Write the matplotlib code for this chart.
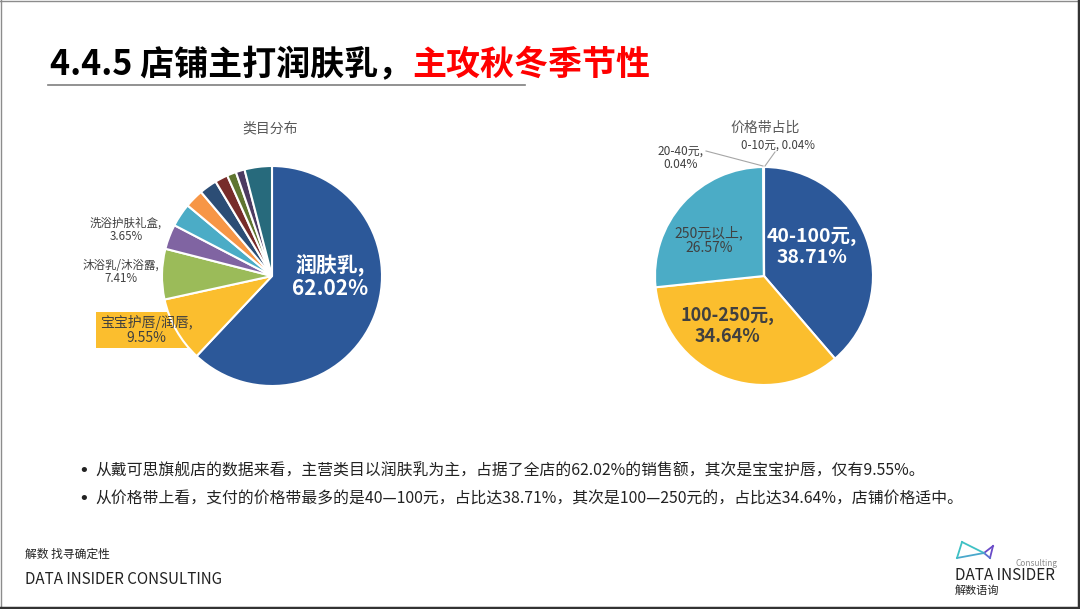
import matplotlib
matplotlib.use("Agg")
import matplotlib.pyplot as plt
from matplotlib.patches import Polygon
from matplotlib.lines import Line2D

plt.rcParams['font.family'] = ['Noto Sans CJK SC', 'DejaVu Sans']

# ---------------- data ----------------
cat_names = ['润肤乳', '宝宝护唇/润唇', '沐浴乳/沐浴露', '洗浴护肤礼盒',
             '其他1', '其他2', '其他3', '其他4', '其他5', '其他6', '其他7']
cat_values = [62.02, 9.55, 7.41, 3.65, 3.45, 2.75, 2.6, 1.9, 1.35, 1.3, 4.02]
cat_colors = ['#2C5899', '#FBBE2E', '#9BBB59', '#8064A2', '#4BACC6', '#F79646',
              '#2C4D75', '#772C2A', '#5F7530', '#4D3B62', '#276A7C']

price_names = ['40-100元', '100-250元', '250元以上', '20-40元', '0-10元']
price_values = [38.71, 34.64, 26.57, 0.04, 0.04]
price_colors = ['#2C5899', '#FBBE2E', '#4BACC6', '#9BBB59', '#8064A2']

W, H = 1080, 609
fig = plt.figure(figsize=(W / 100, H / 100), dpi=100)
fig.patch.set_facecolor('white')


def fx(x):
    return x / W


def fy(y):
    return 1 - y / H


def px_axes(cx, cy, r):
    return fig.add_axes([fx(cx - r), fy(cy + r), 2 * r / W, 2 * r / H])


# ---------------- title ----------------
t1 = fig.text(fx(50), fy(75), '4.4.5 店铺主打润肤乳，', fontsize=24.5, fontweight='bold',
              color='#000000', va='baseline', ha='left')
fig.canvas.draw()
bb = t1.get_window_extent(renderer=fig.canvas.get_renderer())
fig.text(bb.x1 / W, fy(75), '主攻秋冬季节性', fontsize=24.5, fontweight='bold',
         color='#FF0000', va='baseline', ha='left')
fig.add_artist(Line2D([fx(48), fx(525)], [fy(85), fy(85)], color='#7F7F7F', lw=1.2))

# ---------------- left pie ----------------
ax1 = px_axes(272, 276, 110)
wedges1, _ = ax1.pie(cat_values, colors=cat_colors, startangle=90, counterclock=False,
                     radius=1, wedgeprops=dict(edgecolor='white', linewidth=1.5))
ax1.set_xlim(-1, 1)
ax1.set_ylim(-1, 1)
ax1.set_aspect('equal')
fig.text(fx(270), fy(128), '类目分布', fontsize=10, color='#595959', ha='center', va='center')


def d1(x, y):
    return ((x - 272) / 110, (276 - y) / 110)


box = Polygon([d1(96, 312), d1(175, 312), d1(175, 300), d1(200, 300), d1(200, 352),
               d1(190, 348), d1(96, 348)], closed=True, facecolor=cat_colors[1],
              edgecolor='none', clip_on=False, zorder=0)
ax1.add_patch(box)
for w in wedges1:
    w.set_zorder(1)

ax1.text(*d1(330, 276), f'{cat_names[0]},\n{cat_values[0]:.2f}%', color='white', fontsize=15,
         fontweight='bold', ha='center', va='center', linespacing=1.15)
ax1.text(*d1(146, 330), f'{cat_names[1]},\n{cat_values[1]:.2f}%', color='#404040', fontsize=10,
         ha='center', va='center', linespacing=1.1, zorder=3)
ax1.text(*d1(121, 272), f'{cat_names[2]},\n{cat_values[2]:.2f}%', color='#404040', fontsize=8.3,
         ha='center', va='center', linespacing=1.1)
ax1.text(*d1(126, 230), f'{cat_names[3]},\n{cat_values[3]:.2f}%', color='#404040', fontsize=8.3,
         ha='center', va='center', linespacing=1.1)

# ---------------- right pie ----------------
ax2 = px_axes(764, 276, 109)
wedges2, _ = ax2.pie(price_values, colors=price_colors, startangle=90, counterclock=False,
                     radius=1, wedgeprops=dict(edgecolor='white', linewidth=1.5))
ax2.set_xlim(-1, 1)
ax2.set_ylim(-1, 1)
ax2.set_aspect('equal')
fig.text(fx(765), fy(128), '价格带占比', fontsize=10, color='#595959', ha='center', va='center')


def d2(x, y):
    return ((x - 764) / 109, (276 - y) / 109)


ax2.text(*d2(812, 247), f'{price_names[0]},\n{price_values[0]:.2f}%', color='white', fontsize=14,
         fontweight='bold', ha='center', va='center', linespacing=1.15)
ax2.text(*d2(727, 326), f'{price_names[1]},\n{price_values[1]:.2f}%', color='#404040', fontsize=13,
         fontweight='bold', ha='center', va='center', linespacing=1.15)
ax2.text(*d2(709, 240), f'{price_names[2]},\n{price_values[2]:.2f}%', color='#404040', fontsize=10,
         ha='center', va='center', linespacing=1.1)
ax2.text(*d2(681, 158), f'{price_names[3]},\n{price_values[3]:.2f}%', color='#404040', fontsize=8.6,
         ha='center', va='center', linespacing=1.1)
ax2.text(*d2(778, 145), f'{price_names[4]}, {price_values[4]:.2f}%', color='#404040', fontsize=8.3,
         ha='center', va='center')
ax2.add_line(Line2D(*zip(d2(706, 151), d2(763, 166)), color='#A6A6A6', lw=0.8, clip_on=False))
ax2.add_line(Line2D(*zip(d2(775, 152), d2(765, 166)), color='#A6A6A6', lw=0.8, clip_on=False))

# ---------------- bullets ----------------
bullets = ['从戴可思旗舰店的数据来看，主营类目以润肤乳为主，占据了全店的62.02%的销售额，其次是宝宝护唇，仅有9.55%。',
           '从价格带上看，支付的价格带最多的是40—100元，占比达38.71%，其次是100—250元的，占比达34.64%，店铺价格适中。']
for i, b in enumerate(bullets):
    yy = 471 + i * 28
    fig.text(fx(84), fy(yy), '•', fontsize=13, color='#222222', ha='center', va='center',
             family='DejaVu Sans')
    fig.text(fx(95), fy(yy), b, fontsize=11.4, color='#222222', ha='left', va='center')

# ---------------- footer ----------------
fig.text(fx(25), fy(554), '解数 找寻确定性', fontsize=8.5, color='#222222', ha='left', va='center')
fig.text(fx(25), fy(579), 'DATA INSIDER CONSULTING', fontsize=10.9, color='#222222', ha='left', va='center')

# logo
logo_segs = [((962, 542), (984, 553), '#3EC1C4'), ((984, 553), (993, 546), '#6A4BC8'),
             ((993, 546), (990, 558), '#6A4BC8'), ((990, 558), (984, 553), '#5A6FD0'),
             ((984, 553), (957, 558), '#4AA8CC'), ((957, 558), (962, 542), '#3EC1C4')]
for (xa, ya), (xb, yb), c in logo_segs:
    fig.add_artist(Line2D([fx(xa), fx(xb)], [fy(ya), fy(yb)], color=c, lw=1.3))
fig.text(fx(1015), fy(564), 'Consulting', fontsize=6, color='#8C8C8C', ha='left', va='center',
         style='italic')
fig.text(fx(955), fy(576), 'DATA INSIDER', fontsize=11, color='#222222', ha='left', va='center')
fig.text(fx(955), fy(591), '解数语询', fontsize=8, color='#222222', ha='left', va='center')

# frame border
fig.add_artist(Line2D([0, 1], [fy(0.5), fy(0.5)], color='#8C8C8C', lw=1))
fig.add_artist(Line2D([fx(0.5), fx(0.5)], [0, 1], color='#8C8C8C', lw=1))
fig.add_artist(Line2D([fx(1078.5), fx(1078.5)], [0, 1], color='#333333', lw=2.5))
fig.add_artist(Line2D([0, 1], [fy(607.5), fy(607.5)], color='#333333', lw=2.5))

fig.savefig('out.png', dpi=100, facecolor='white')
